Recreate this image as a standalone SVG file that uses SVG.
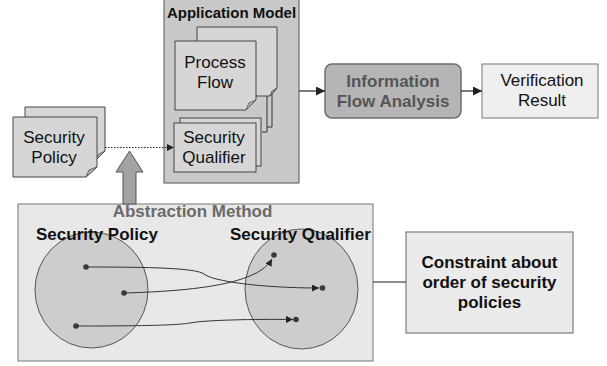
<svg xmlns="http://www.w3.org/2000/svg" width="607" height="366" viewBox="0 0 607 366">
  <defs>
    <style>
      .lbl { font-family: "Liberation Sans", Arial, sans-serif; font-size: 17px; fill: #111; }
      .bold { font-weight: bold; }
      .mid { text-anchor: middle; }
      .page { fill: #d6d6d6; stroke: #444; stroke-width: 1; }
      .fold { fill: #bdbdbd; stroke: #444; stroke-width: 0.8; }
      .edge { fill: none; stroke: #222; stroke-width: 1.2; }
      .thin { fill: none; stroke: #333; stroke-width: 1; }
      .dot { fill: #3a3a3a; }
    </style>
    <marker id="arrow" viewBox="0 0 10 10" refX="10" refY="5" markerWidth="9" markerHeight="9" markerUnits="userSpaceOnUse" orient="auto">
      <path d="M0,0 L10,5 L0,10 Z" fill="#222"/>
    </marker>
    <marker id="arrowSmall" viewBox="0 0 10 10" refX="10" refY="5" markerWidth="7" markerHeight="7" markerUnits="userSpaceOnUse" orient="auto">
      <path d="M0,0 L10,5 L0,10 Z" fill="#222"/>
    </marker>
  </defs>

  <rect width="607" height="366" fill="#ffffff"/>

  <!-- Application Model container -->
  <g id="application-model">
    <rect x="164" y="-1" width="135" height="184" fill="#c9c9c9" stroke="#555" stroke-width="1"/>
    <text class="lbl bold mid" x="231.5" y="18" style="font-size:15px">Application Model</text>
  </g>

  <!-- Process Flow document stack -->
  <g id="process-flow">
    <path class="thin" d="M267,30 V132 H262"/>
    <path class="thin" d="M272,30 V127 H267"/>
    <path class="page" d="M197,27 H277 V88 L270,96 H197 Z"/>
    <path class="fold" d="M270,96 L272,91 L277,88 Z"/>
    <path class="page" d="M175,41 H256 V100 L246,110 H175 Z"/>
    <path class="fold" d="M246,110 L249,103 L256,100 Z"/>
    <text class="lbl mid" x="215" y="68">Process</text>
    <text class="lbl mid" x="215" y="88">Flow</text>
  </g>

  <!-- Security Qualifier document -->
  <g id="security-qualifier-doc">
    <rect class="page" x="180" y="118" width="81" height="48"/>
    <rect class="page" x="174" y="123" width="82" height="49"/>
    <text class="lbl mid" x="214" y="143">Security</text>
    <text class="lbl mid" x="214" y="163">Qualifier</text>
  </g>

  <!-- Security Policy document -->
  <g id="security-policy-doc">
    <path class="page" d="M25,107 H105 V151 L96,160 H25 Z"/>
    <path class="fold" d="M96,160 L99,154 L105,151 Z"/>
    <path class="page" d="M13,117 H97 V167 L86,177 H13 Z"/>
    <path class="fold" d="M86,177 L89,170 L97,167 Z"/>
    <text class="lbl mid" x="54" y="143">Security</text>
    <text class="lbl mid" x="54" y="163">Policy</text>
  </g>

  <!-- Information Flow Analysis -->
  <g id="information-flow-analysis">
    <rect x="325" y="64" width="136" height="54" rx="7" ry="7" fill="#b5b5b5" stroke="#6e6e6e" stroke-width="1.5"/>
    <text class="lbl bold mid" x="393" y="87" fill="#555" style="fill:#555">Information</text>
    <text class="lbl bold mid" x="393" y="107" style="fill:#555">Flow Analysis</text>
  </g>

  <!-- Verification Result -->
  <g id="verification-result">
    <rect x="482" y="64" width="116" height="54" fill="#efefef" stroke="#777" stroke-width="1"/>
    <text class="lbl mid" x="542" y="86">Verification</text>
    <text class="lbl mid" x="542" y="106">Result</text>
  </g>

  <!-- Abstraction Method container -->
  <g id="abstraction-method">
    <rect x="18" y="204" width="355" height="157" fill="#e8e8e8" stroke="#777" stroke-width="1"/>
    <text class="lbl bold mid" x="192.5" y="217" style="fill:#6a6a6a">Abstraction Method</text>
    <ellipse cx="91.5" cy="290" rx="56.5" ry="58" fill="#cdcdcd" stroke="#555" stroke-width="1"/>
    <ellipse cx="301.5" cy="289" rx="56.5" ry="60" fill="#cdcdcd" stroke="#555" stroke-width="1"/>
    <text class="lbl bold" x="36" y="240">Security Policy</text>
    <text class="lbl bold" x="230" y="240">Security Qualifier</text>
    <circle class="dot" cx="86" cy="267" r="2.8"/>
    <circle class="dot" cx="124" cy="293" r="2.8"/>
    <circle class="dot" cx="76" cy="326" r="2.8"/>
    <circle class="dot" cx="274" cy="255" r="2.8"/>
    <circle class="dot" cx="322.5" cy="288" r="2.8"/>
    <circle class="dot" cx="296" cy="319.5" r="2.8"/>
  </g>

  <!-- Constraint box -->
  <g id="constraint">
    <rect x="406" y="232" width="167" height="101" fill="#ebebeb" stroke="#666" stroke-width="1"/>
    <text class="lbl bold mid" x="489.5" y="268">Constraint about</text>
    <text class="lbl bold mid" x="489.5" y="288">order of security</text>
    <text class="lbl bold mid" x="489.5" y="308">policies</text>
  </g>

  <!-- Connectors -->
  <g id="connectors">
    <line class="edge" x1="299" y1="91" x2="325" y2="91" marker-end="url(#arrow)"/>
    <line class="edge" x1="461" y1="91" x2="482" y2="91" marker-end="url(#arrow)"/>
    <line x1="105" y1="147.5" x2="174" y2="147.5" stroke="#222" stroke-width="1.2" stroke-dasharray="1.5,1.5" marker-end="url(#arrowSmall)"/>
    <line class="edge" x1="373" y1="282" x2="406" y2="282" stroke-width="1.6"/>
    <path d="M123,204 V172 H116 L129.5,151 L143,172 H136 V204 Z" fill="#a3a3a3" stroke="#555" stroke-width="1"/>
    <path class="thin" d="M86,267 C150,267 196,268 204,274 C212,281 260,288 319,288" marker-end="url(#arrowSmall)"/>
    <path class="thin" d="M124,293 C195,291 258,284 272,259" marker-end="url(#arrowSmall)"/>
    <path class="thin" d="M76,326 C150,326 178,325 190,323 C205,320 255,319 293,319.5" marker-end="url(#arrowSmall)"/>
  </g>
</svg>
